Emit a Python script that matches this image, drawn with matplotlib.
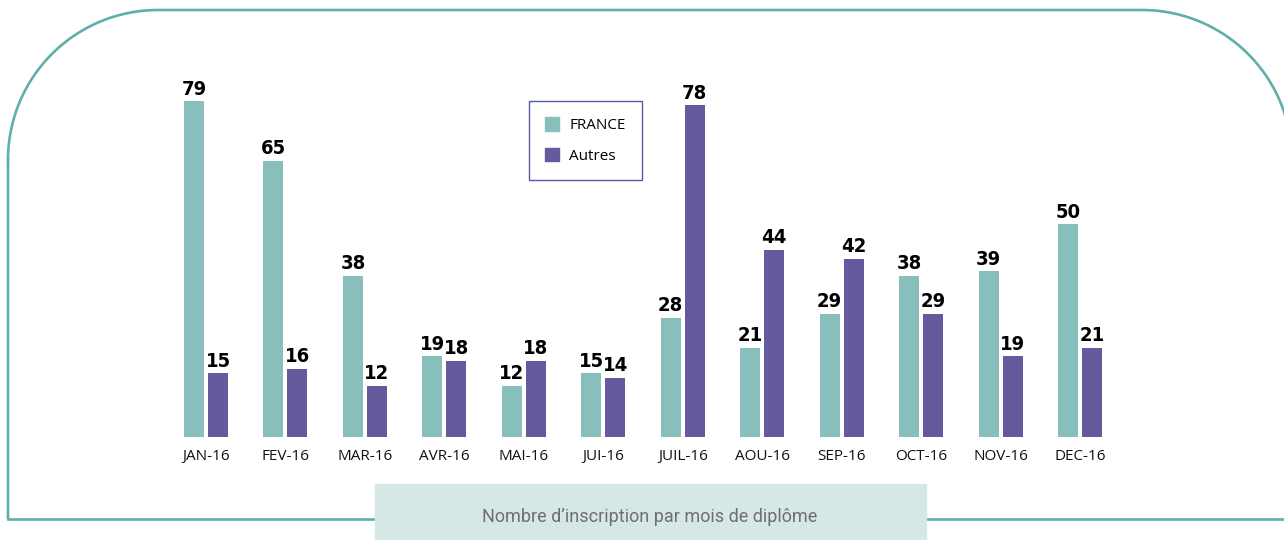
import numpy as np
import matplotlib
matplotlib.use("Agg")
import matplotlib.pyplot as plt
from matplotlib.patches import Rectangle, Patch

# --- data ---
months = ["JAN-16", "FEV-16", "MAR-16", "AVR-16", "MAI-16", "JUI-16",
          "JUIL-16", "AOU-16", "SEP-16", "OCT-16", "NOV-16", "DEC-16"]
france = [79, 65, 38, 19, 12, 15, 28, 21, 29, 38, 39, 50]
autres = [15, 16, 12, 18, 18, 14, 78, 44, 42, 29, 19, 21]

c_france = "#88BFBC"
c_autres = "#655A9E"
c_frame = "#5FAFAA"

W, H = 1284, 540
fig = plt.figure(figsize=(W / 100, H / 100), dpi=100)

# --- background frame (pixel coords) ---
bg = fig.add_axes([0, 0, 1, 1])
bg.set_xlim(0, W)
bg.set_ylim(H, 0)
bg.axis("off")

r = 150
t1 = np.linspace(np.pi, 1.5 * np.pi, 60)
t2 = np.linspace(1.5 * np.pi, 2 * np.pi, 60)
xs = [8, 8] + list(158 + r * np.cos(t1)) + list(1142 + r * np.cos(t2))
ys = [519, 160] + list(160 + r * np.sin(t1)) + list(160 + r * np.sin(t2))
bg.plot(xs, ys, color=c_frame, lw=1.9, solid_capstyle="butt")
bg.plot([8, 375], [519, 519], color=c_frame, lw=1.9)
bg.plot([926, W], [519, 519], color=c_frame, lw=1.9)
bg.add_patch(Rectangle((375, 484), 551, 60, color="#D6E8E6", zorder=3))
bg.text(650, 517, "Nombre d\u2019inscription par mois de diplôme", ha="center",
        va="center", fontsize=13, color="#6E6E6E", family="Roboto",
        fontstretch="condensed", zorder=4)

# --- bars ---
px = 79.45
left = 206 - 0.5 * px
ax = fig.add_axes([left / W, 103 / H, 12 * px / W, 377 / H])
ax.set_xlim(-0.5, 11.5)
ax.set_ylim(0, 377 / 4.25)
ax.axis("off")
ax.patch.set_alpha(0)

x = np.arange(len(months))
bw = 20 / px
off = 12 / px
b1 = ax.bar(x - off, france, bw, color=c_france)
b2 = ax.bar(x + off, autres, bw, color=c_autres)

for bars, vals in ((b1, france), (b2, autres)):
    for b, v in zip(bars, vals):
        ax.text(b.get_x() + b.get_width() / 2, v + 0.6, str(v), ha="center",
                va="bottom", fontsize=14.5, fontweight="bold",
                family="DejaVu Sans", fontstretch="condensed", color="black")

for xi, m in zip(x, months):
    ax.text(xi, -4.7, m, ha="center", va="center", fontsize=11,
            family="Open Sans", color="#111111")

handles = [Patch(color=c_france, label="FRANCE"), Patch(color=c_autres, label="Autres")]
leg = fig.legend(handles=handles, loc="upper left",
                 bbox_to_anchor=(529 / W, 1 - 101 / H), borderaxespad=0,
                 frameon=True, fancybox=False, handlelength=0.9,
                 handleheight=1.0, labelspacing=0.95, borderpad=1.05,
                 handletextpad=0.7,
                 prop={"family": "Open Sans", "size": 11})
leg.get_frame().set_edgecolor("#2A2F8C")
leg.get_frame().set_linewidth(1.0)

fig.savefig("out.png", dpi=100)
